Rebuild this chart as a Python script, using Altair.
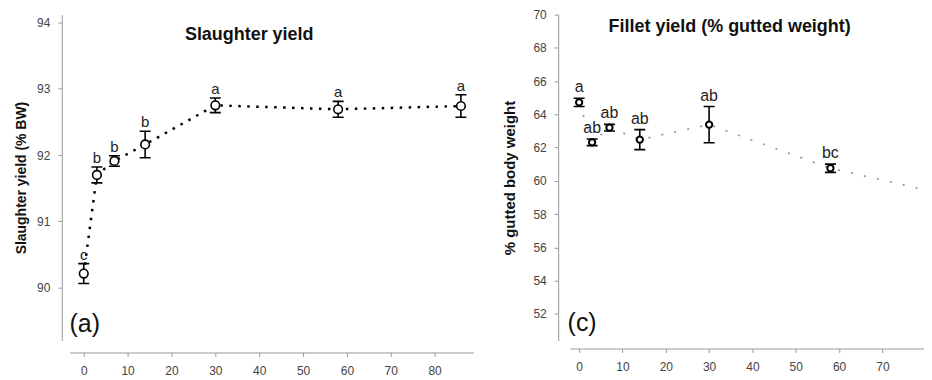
import altair as alt
import pandas as pd

# ---- data ----
days = [0, 3, 7, 14, 30, 58, 86]

slaughter_mean = [90.21, 91.70, 91.91, 92.16, 92.75, 92.69, 92.74]
slaughter_se = [0.15, 0.12, 0.08, 0.20, 0.11, 0.12, 0.17]
slaughter_letters = ["c", "b", "b", "b", "a", "a", "a"]

fillet_mean = [64.72, 62.32, 63.20, 62.48, 63.38, 60.76, 59.10]
fillet_se = [0.25, 0.20, 0.20, 0.60, 1.09, 0.25, 0.00]
fillet_letters = ["a", "ab", "ab", "ab", "ab", "bc", ""]

x_ticks = [0, 10, 20, 30, 40, 50, 60, 70, 80]
slaughter_y_ticks = [90, 91, 92, 93, 94]
fillet_y_ticks = [52, 54, 56, 58, 60, 62, 64, 66, 68, 70]

panel_titles = ["Slaughter yield", "Fillet yield (% gutted weight)"]
panel_tags = ["(a)", "(c)"]
y_titles = ["Slaughter yield (% BW)", "% gutted body weight"]

FONT = "Liberation Sans"


def frame(mean, se, letters):
    return pd.DataFrame({
        "day": days,
        "mean": mean,
        "lo": [m - s for m, s in zip(mean, se)],
        "hi": [m + s for m, s in zip(mean, se)],
        "letter": letters,
    })


def panel(df, xdom, ydom, yticks, ytitle, ytitle_size, ytitle_pad, title, title_pos,
          tag, tag_pos, w, h, x_off, y_off, line_style, pt_size, pt_sw, letter_size,
          letter_dy):
    xvals = [v for v in x_ticks if xdom[0] <= v <= xdom[1]]
    xenc = alt.X("day:Q", scale=alt.Scale(domain=xdom, nice=False, zero=False),
                 axis=alt.Axis(values=xvals, offset=x_off, tickSize=4, labelPadding=9,
                               grid=False, labelFontSize=12, labelFlush=False,
                               labelColor="#444", labelOverlap=False, labelBound=False),
                 title=None)

    def yenc(field):
        return alt.Y(field, type="quantitative",
                     scale=alt.Scale(domain=ydom, nice=False, zero=False),
                     axis=alt.Axis(values=yticks, offset=y_off, tickSize=4, labelPadding=8,
                                   grid=False, labelFontSize=12, labelColor="#444",
                                   titleFontSize=ytitle_size, titleFontWeight="bold",
                                   titlePadding=ytitle_pad, titleColor="#111"),
                     title=ytitle)

    base = alt.Chart(df)
    line = base.mark_line(clip=True, **line_style).encode(x=xenc, y=yenc("mean"))
    rule = base.mark_rule(clip=True, color="black", strokeWidth=1.6).encode(
        x=xenc, y=yenc("lo"), y2="hi")
    cap_lo = base.mark_tick(clip=True, orient="horizontal", size=11, thickness=1.6,
                            color="black", opacity=1).encode(x=xenc, y=yenc("lo"))
    cap_hi = base.mark_tick(clip=True, orient="horizontal", size=11, thickness=1.6,
                            color="black", opacity=1).encode(x=xenc, y=yenc("hi"))
    pts = base.mark_point(clip=True, shape="circle", filled=True, fill="white",
                          stroke="black", strokeWidth=pt_sw, size=pt_size,
                          opacity=1).encode(x=xenc, y=yenc("mean"))
    lab = base.mark_text(clip=True, baseline="alphabetic", dy=letter_dy,
                         fontSize=letter_size, font=FONT, color="#222").encode(
        x=xenc, y=yenc("hi"), text="letter:N")
    ttl = alt.Chart(pd.DataFrame({"t": [title]})).mark_text(
        fontSize=18, fontWeight="bold", font=FONT, color="#111",
        align="center", baseline="middle").encode(
        x=alt.value(title_pos[0]), y=alt.value(title_pos[1]), text="t:N")
    tg = alt.Chart(pd.DataFrame({"t": [tag]})).mark_text(
        fontSize=25, font=FONT, color="#111", align="center", baseline="middle").encode(
        x=alt.value(tag_pos[0]), y=alt.value(tag_pos[1]), text="t:N")
    return alt.layer(line, rule, cap_lo, cap_hi, pts, lab, ttl, tg).properties(
        width=w, height=h)


df_a = frame(slaughter_mean, slaughter_se, slaughter_letters)
df_c = frame(fillet_mean, fillet_se, fillet_letters)

left = panel(df_a, [-3.18, 88.86], [89.2, 94.12], slaughter_y_ticks, y_titles[0], 14, 8,
             panel_titles[0], (180, 20), panel_tags[0], (15, 310), 405, 327, 12, 8,
             dict(color="black", strokeWidth=2.5, strokeDash=[2.5, 6.5]), 75, 1.6, 15, -4)

right = panel(df_c, [-2.07, 79.6], [50.4, 70.0], fillet_y_ticks, y_titles[1], 15, 15,
              panel_titles[1], (160, 12), panel_tags[1], (12, 309), 355, 327, 8, 12,
              dict(color="#9a9a9a", strokeWidth=1.8, strokeDash=[2, 11.3]), 40, 2.0, 16, -6)

chart = alt.hconcat(left, right, spacing=29).properties(
    padding={"left": 6, "top": 0, "right": 0, "bottom": 0}
).configure_view(stroke=None).configure_axis(
    domainColor="#999", tickColor="#999", labelColor="#444",
    labelFont=FONT, titleFont=FONT
)

chart.save("out.html", embed_options={"renderer": "svg", "actions": False})
